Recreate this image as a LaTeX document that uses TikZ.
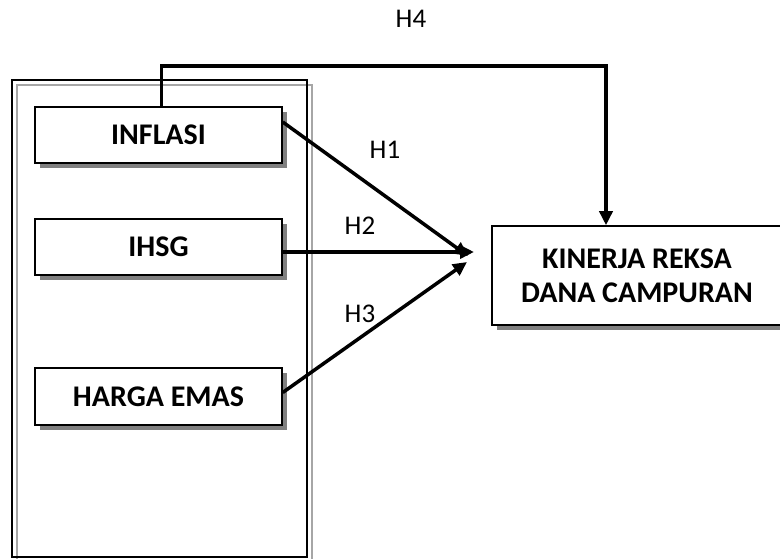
\documentclass[tikz,border=0pt]{standalone}
\usepackage{fontspec}
\setmainfont{Carlito}
\usetikzlibrary{shadows,arrows.meta}
\begin{document}
\begin{tikzpicture}[x=1pt,y=-1pt,
  varbox/.style={draw, line width=1.5pt, fill=white, minimum width=247pt, minimum height=56pt, inner sep=0pt,
    drop shadow={shadow xshift=5pt, shadow yshift=-5pt, fill=black!50, opacity=1},
    font=\bfseries\fontsize{30}{34}\selectfont},
  hlabel/.style={font=\fontsize{27}{34}\selectfont, inner sep=0pt},
  arr/.style={line width=3.5pt, -{Triangle[length=14pt,width=13pt]}}]
\useasboundingbox (0,0) rectangle (780,559);
\fill[white] (0,0) rectangle (780,559);
\draw[black!35, line width=1.5pt] (17,85) rectangle (312,562);
\draw[black, line width=1.5pt] (12,80) rectangle (307,557);
\node[varbox] (inf) at (158.5,135) {INFLASI};
\node[varbox] (ihsg) at (158.5,247) {IHSG};
\node[varbox, minimum height=57pt] (emas) at (158.5,396.5) {HARGA EMAS};
\node[varbox, minimum width=290pt, minimum height=99pt, align=center] (kin) at (637,275.5) {KINERJA REKSA\\DANA CAMPURAN};
\coordinate (t1) at (468,256);
\coordinate (t2) at (474,252);
\coordinate (t3) at (467,262);
\draw[arr] ([yshift=13pt]inf.east) -- (t1);
\draw[arr] ([yshift=-5pt]ihsg.east) -- (t2);
\draw[arr] ([yshift=4pt]emas.east) -- (t3);
\draw[arr] ([xshift=3pt]inf.north) -- ++(0,-40) -| ([xshift=-31pt]kin.north);
\node[hlabel] (h1) at (385,150) {H1};
\node[hlabel] (h2) at (360,226) {H2};
\node[hlabel] (h3) at (360,314) {H3};
\node[hlabel] (h4) at (411,18.5) {H4};
\end{tikzpicture}
\end{document}
